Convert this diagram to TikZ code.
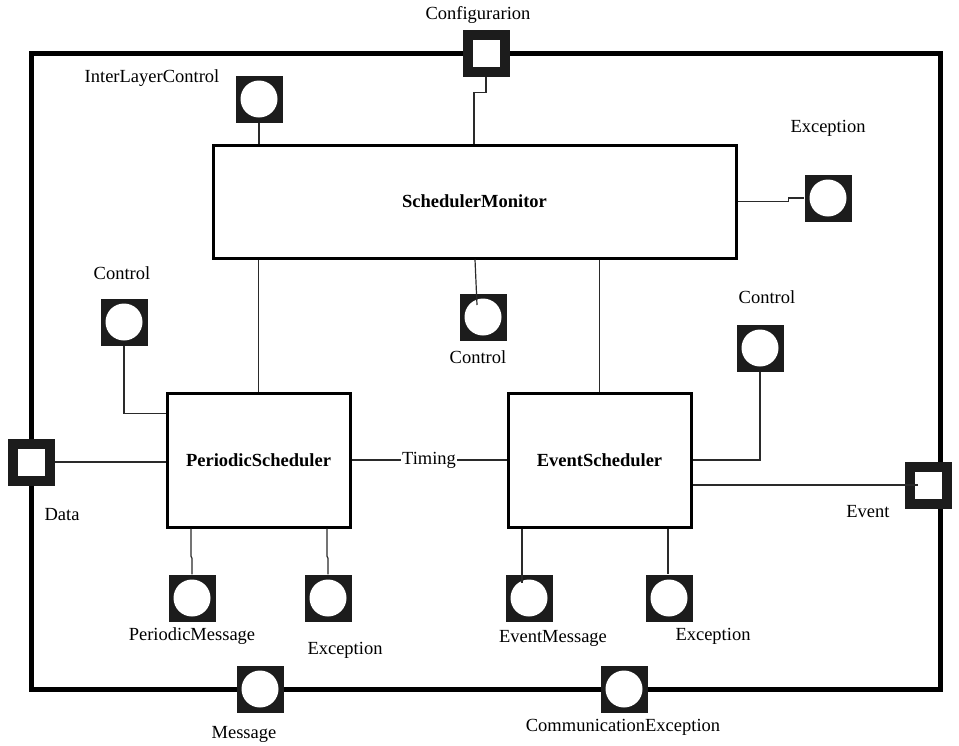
\documentclass[tikz,border=0pt]{standalone}
\usepackage{fontspec}
\setmainfont{Liberation Serif}
\usetikzlibrary{calc}
\definecolor{portfill}{HTML}{1C1C1C}
\definecolor{wirecol}{HTML}{2A2A2A}
\begin{document}
\begin{tikzpicture}[x=1pt,y=-1pt,
  every node/.style={font=\fontsize{18.5}{22}\selectfont},
  frame/.style={draw=black,line width=5pt},
  block/.style={draw=black,line width=3pt,fill=white,inner sep=0pt,font=\fontsize{18.5}{22}\selectfont\bfseries},
  wire/.style={draw=wirecol,line width=1.2pt},
  cport/.style={draw=none,fill=portfill,minimum size=47pt,inner sep=0pt,
    path picture={\fill[white] (path picture bounding box.center) circle (18.5pt);}},
  sport/.style={draw=none,fill=portfill,minimum size=47pt,inner sep=0pt,
    path picture={\fill[white] ([xshift=-13.5pt,yshift=-13.5pt]path picture bounding box.center) rectangle ++(27pt,27pt);}},
  lbl/.style={inner sep=0pt}
]
\useasboundingbox (0,0) rectangle (959,745);

% outer component boundary
\draw[frame] (31,53) rectangle (940,689);

% inner components
\node[block,minimum width=523pt,minimum height=113pt] (sm) at (474.5,201.5) {SchedulerMonitor};
\node[block,minimum width=183pt,minimum height=134pt] (ps) at (258.5,460) {PeriodicScheduler};
\node[block,minimum width=183pt,minimum height=134pt] (es) at (599.5,460) {EventScheduler};

% ports
\node[sport] (cfg)   at (486,53)  {};
\node[cport] (ilc)   at (259,99)  {};
\node[cport] (smexc) at (828,198) {};
\node[cport] (ctlM)  at (483,317) {};
\node[cport] (ctlL)  at (124,322) {};
\node[cport] (ctlR)  at (760,348) {};
\node[sport] (data)  at (31,462)  {};
\node[sport] (evt)   at (928,485) {};
\node[cport] (pmsg)  at (192,598) {};
\node[cport] (pexc)  at (328,598) {};
\node[cport] (emsg)  at (529,598) {};
\node[cport] (eexc)  at (669,598) {};
\node[cport] (msg)   at (260,689) {};
\node[cport] (cexc)  at (624,689) {};

% port labels
\node[lbl] (lcfg)   at (478,15)  {Configurarion};
\node[lbl] (lilc)   at (152,78)  {InterLayerControl};
\node[lbl] (lsmexc) at (828,128) {Exception};
\node[lbl] (lctlL)  at (122,273) {Control};
\node[lbl] (lctlM)  at (478,357) {Control};
\node[lbl] (lctlR)  at (767,297) {Control};
\node[lbl] (ldata)  at (62,515)  {Data};
\node[lbl] (levt)   at (868,512) {Event};
\node[lbl] (lpmsg)  at (192,636) {PeriodicMessage};
\node[lbl] (lpexc)  at (345,650) {Exception};
\node[lbl] (lemsg)  at (553,638) {EventMessage};
\node[lbl] (leexc)  at (713,636) {Exception};
\node[lbl] (lmsg)   at (244,734) {Message};
\node[lbl] (lcexc)  at (623,727) {CommunicationException};

% connectors
\draw[wire] (cfg.south) -- ++(0,16) -| ($(cfg.south |- sm.north)+(-12,0)$);
\draw[wire] (ilc.south) -- (ilc.south |- sm.north);
\draw[wire] (sm.east) -- ++(51,0) |- (smexc.west);
\draw[wire] ($(ctlM.center |- sm.south)+(-8,0)$) -- ($(ctlM.center)+(-6,-12)$);
\draw[wire] (ps.north) -- (ps.north |- sm.south);
\draw[wire] (es.north) -- (es.north |- sm.south);
\draw[wire] (ctlL.south) |- ([yshift=-22pt]ps.north west);
\draw[wire] (ctlR.south) |- (es.east);
\draw[wire] (data.east) -- (data.east -| ps.west);
\draw[wire] (ps.east) -- node[fill=white,inner sep=1pt] (timing) {Timing} (es.west);
\draw[wire] (evt.center -| es.east) -- ([xshift=-10pt]evt.center);
\draw[wire] ($(pmsg.north |- ps.south)+(-1,0)$) -- ($(pmsg.north)+(-1,-18)$) -- ($(pmsg.north)+(0,-16)$) -- (pmsg.north);
\draw[wire] ($(pexc.north |- ps.south)+(-1,0)$) -- ($(pexc.north)+(-1,-18)$) -- ($(pexc.north)+(0,-16)$) -- (pexc.north);
\draw[wire] ($(emsg.center |- es.south)+(-7,0)$) -- ($(emsg.center)+(-7,-15)$);
\draw[wire] ($(eexc.north |- es.south)+(-1,0)$) -- ($(eexc.north)+(-1,0)$);
\end{tikzpicture}
\end{document}
